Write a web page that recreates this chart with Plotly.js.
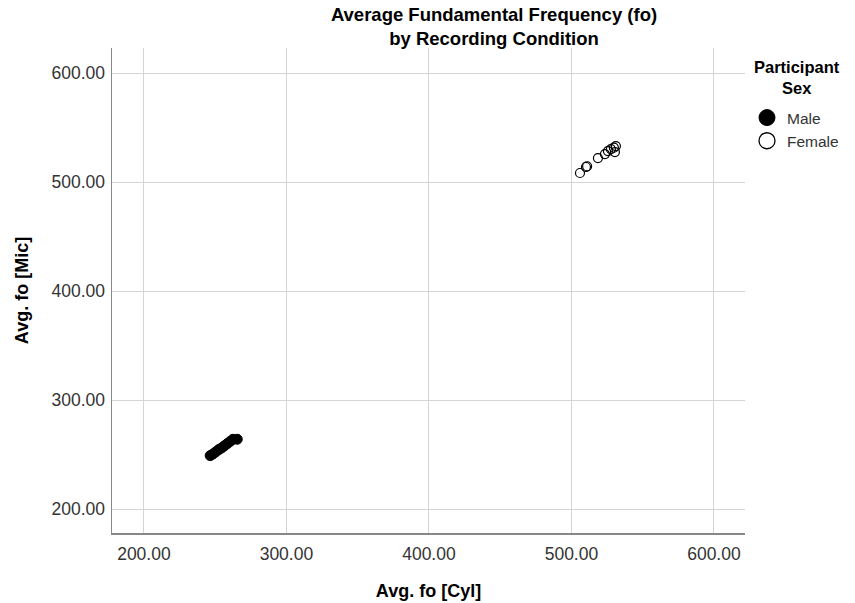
<!DOCTYPE html>
<html>
<head>
<meta charset="utf-8">
<script src="https://cdn.plot.ly/plotly-3.0.1.min.js"></script>
<style>html,body{margin:0;padding:0;background:#fff;}#chart{width:855px;height:603px;}</style>
</head>
<body>
<div id="chart"></div>
<script>
// Data
const maleCyl = [246.5, 248.5, 250.5, 252.5, 254.5, 256.5, 258.5, 260.5, 262.5, 265.5];
const maleMic = [249.0, 250.5, 252.5, 254.5, 256.0, 258.0, 260.0, 262.0, 264.0, 264.0];
const femaleCyl = [506.0, 510.2, 511.0, 518.6, 523.5, 525.6, 527.7, 529.8, 530.5, 531.2];
const femaleMic = [508.3, 513.8, 514.5, 522.0, 525.7, 528.4, 530.3, 531.5, 527.5, 533.0];
const seriesNames = ["Male", "Female"];
const tickVals = [200, 300, 400, 500, 600];
const tickText = ["200.00", "300.00", "400.00", "500.00", "600.00"];

const font = "Arial, 'Liberation Sans', sans-serif";
const clear = "rgba(0,0,0,0)";

const traces = [
  {
    x: maleCyl, y: maleMic, mode: "markers", type: "scatter", name: seriesNames[0],
    showlegend: false, legendgroup: "m",
    marker: {color: "#000", size: 10, line: {color: "#000", width: 1}}
  },
  {
    x: femaleCyl, y: femaleMic, mode: "markers", type: "scatter", name: seriesNames[1],
    showlegend: false, legendgroup: "f",
    marker: {color: clear, size: 9, line: {color: "#000", width: 1.2}}
  },
  // legend-only entries (larger legend symbols, as in the reference)
  {
    x: [null], y: [null], mode: "markers", type: "scatter", name: seriesNames[0], legendgroup: "m",
    marker: {color: "#000", size: 16, line: {color: "#000", width: 1}}
  },
  {
    x: [null], y: [null], mode: "markers", type: "scatter", name: seriesNames[1], legendgroup: "f",
    marker: {color: clear, size: 16, line: {color: "#000", width: 1.3}}
  }
];

const layout = {
  width: 855, height: 603,
  margin: {l: 112, r: 110, t: 48, b: 70},
  paper_bgcolor: "#fff", plot_bgcolor: "#fff",
  font: {family: font, color: "#000"},
  title: {
    text: "<b>Average Fundamental Frequency (fo)<br>by Recording Condition</b>",
    font: {size: 18.5, family: font, color: "#000"},
    xref: "container", x: 494/855, xanchor: "center",
    yref: "container", y: 1 - 21/603, yanchor: "top"
  },
  xaxis: {
    range: [177.6, 621.8],
    tickvals: tickVals, ticktext: tickText,
    tickfont: {size: 17.5, color: "#333", family: font},
    showgrid: true, gridcolor: "#d4d4d4", gridwidth: 1,
    showline: true, linecolor: "#888", linewidth: 1.5,
    zeroline: false, ticks: "outside", ticklen: 4, tickcolor: clear,
    title: {text: "<b>Avg. fo [Cyl]</b>", font: {size: 18, family: font, color: "#000"}, standoff: 22}
  },
  yaxis: {
    range: [178.0, 623.0],
    tickvals: tickVals, ticktext: tickText,
    tickfont: {size: 17.5, color: "#333", family: font},
    showgrid: true, gridcolor: "#d4d4d4", gridwidth: 1,
    showline: true, linecolor: "#888", linewidth: 1.5,
    zeroline: false, ticks: "outside", ticklen: 2, tickcolor: clear,
    title: {text: "<b>Avg. fo [Mic]</b>", font: {size: 18, family: font, color: "#000"}, standoff: 18}
  },
  legend: {
    x: 747/855, xref: "container", xanchor: "left",
    y: 1 - 101/603, yref: "container", yanchor: "top",
    font: {size: 15.5, family: font, color: "#333"},
    itemwidth: 30, tracegroupgap: 0,
    bgcolor: clear
  },
  annotations: [
    {
      text: "<b>Participant<br>Sex</b>",
      xref: "paper", yref: "paper",
      x: 1 + (797 - 745)/633, xanchor: "center",
      y: 1 + (48 - 56)/485, yanchor: "top",
      showarrow: false, align: "center",
      font: {size: 16.5, family: font, color: "#000"}
    }
  ],
  showlegend: true
};

Plotly.newPlot("chart", traces, layout, {displayModeBar: false, staticPlot: true});
</script>
</body>
</html>
